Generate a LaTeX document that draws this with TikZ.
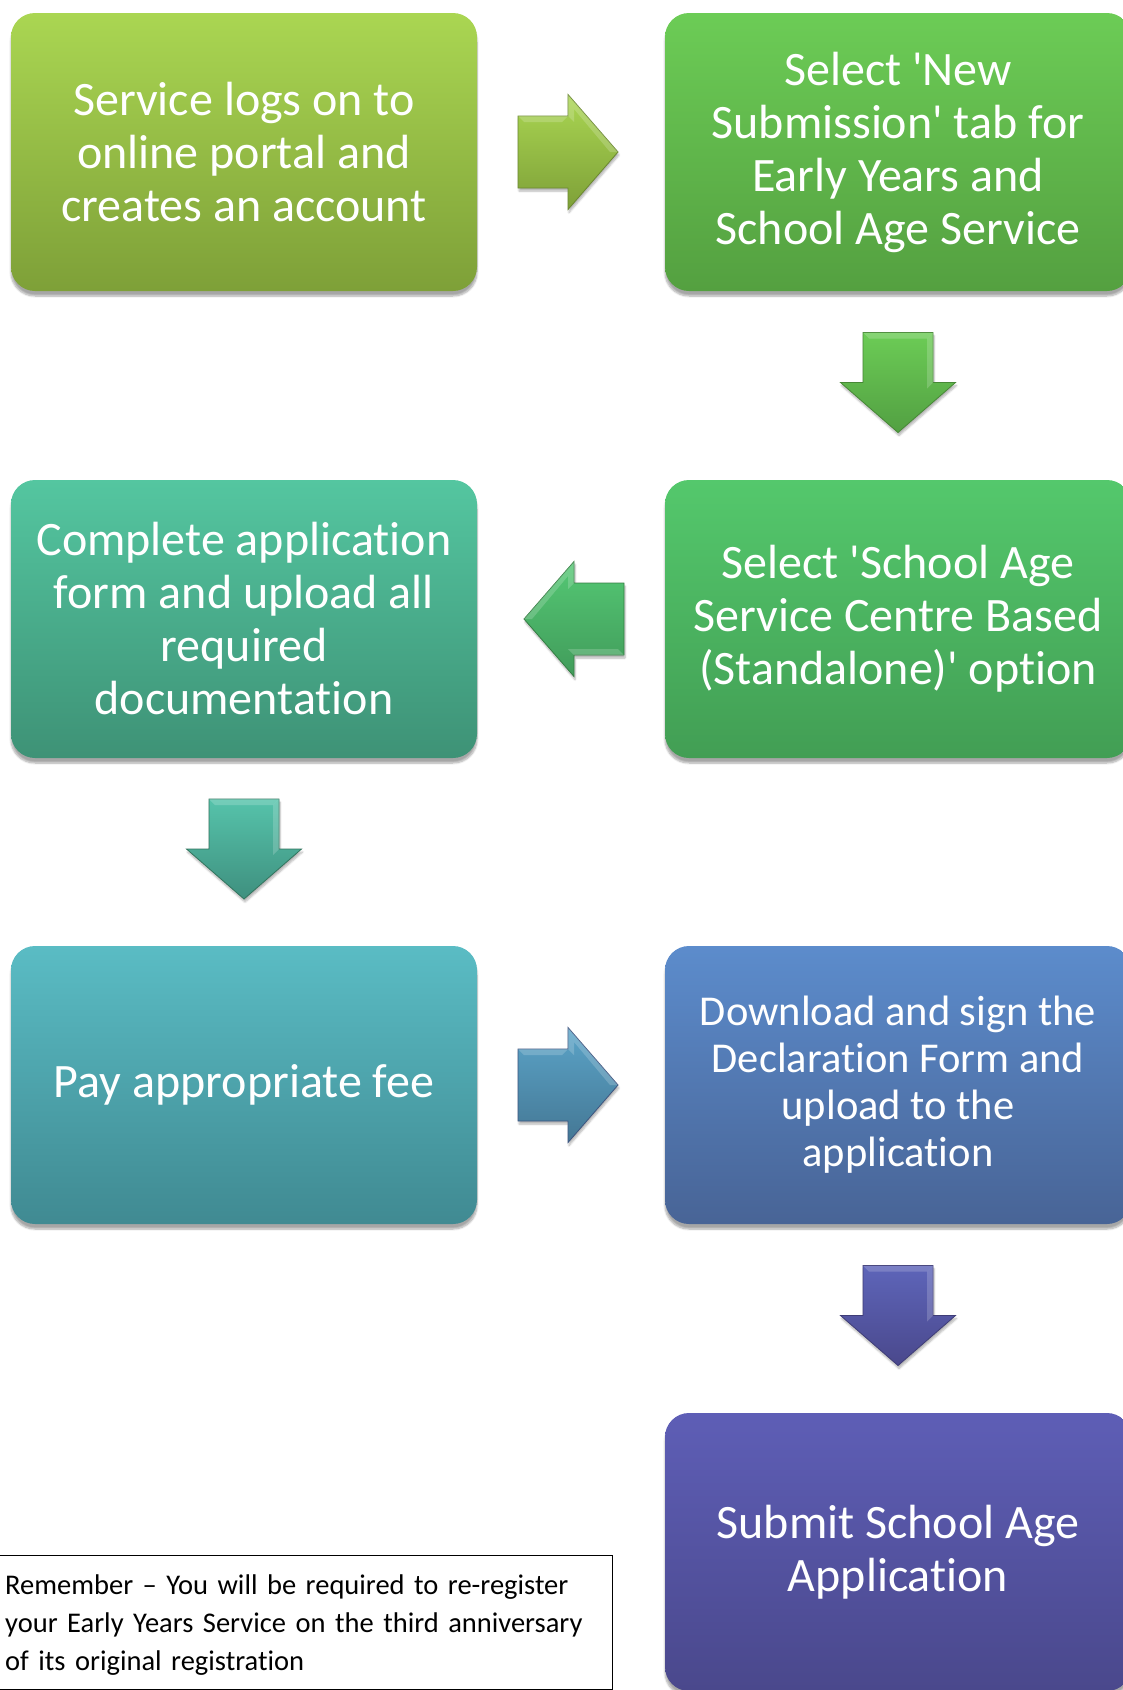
\documentclass[tikz,border=0pt]{standalone}
\usepackage{fontspec}
\setmainfont{Carlito}[Ligatures={NoCommon,TeX}]
\usetikzlibrary{calc,shadows,shadows.blur}
\definecolor{aT}{RGB}{170,214,82}\definecolor{aB}{RGB}{126,160,56}
\definecolor{bT}{RGB}{108,204,86}\definecolor{bB}{RGB}{84,160,64}
\definecolor{cT}{RGB}{84,200,108}\definecolor{cB}{RGB}{66,158,84}
\definecolor{dT}{RGB}{84,198,160}\definecolor{dB}{RGB}{62,146,118}
\definecolor{eT}{RGB}{90,188,196}\definecolor{eB}{RGB}{64,138,146}
\definecolor{fT}{RGB}{92,140,204}\definecolor{fB}{RGB}{72,100,150}
\definecolor{gT}{RGB}{94,94,182}\definecolor{gB}{RGB}{74,72,140}
\tikzset{
  stepbox/.style={rounded corners=24pt, minimum width=466pt, minimum height=278pt,
    inner sep=0pt, align=center, text=white,
    font=\fontsize{48}{53}\selectfont,
    blur shadow={shadow xshift=0pt, shadow yshift=-5pt, shadow blur steps=8, shadow opacity=35}},
  blockarrow/.style={line width=0.8pt,
    blur shadow={shadow xshift=1pt, shadow yshift=-3pt, shadow blur steps=6, shadow opacity=30}},
  bevel/.style={fill=white, fill opacity=0.18},
  notebox/.style={draw=black, line width=1.3pt, minimum width=613pt, minimum height=134pt,
    inner sep=0pt, anchor=north west},
  notetext/.style={anchor=base west, align=left, text width=610pt, inner sep=0pt,
    font=\fontsize{28.5}{38}\selectfont}
}
\begin{document}
\begin{tikzpicture}[x=1pt,y=-1pt]
\useasboundingbox (0,0) rectangle (1123,1690);
\clip (0,0) rectangle (1123,1690);

% boxes
\node[stepbox, top color=aT, bottom color=aB] (b1) at (244,152)
  {Service logs on to\\online portal and\\creates an account};
\node[stepbox, top color=bT, bottom color=bB] (b2) at (898,152)
  {Select \textquotesingle New\\Submission\textquotesingle{} tab for\\Early Years and\\School Age Service};
\node[stepbox, top color=cT, bottom color=cB] (b3) at (898,619)
  {Select \textquotesingle School Age\\Service Centre Based\\(Standalone)\textquotesingle{} option};
\node[stepbox, top color=dT, bottom color=dB] (b4) at (244,619)
  {Complete application\\form and upload all\\required\\documentation};
\node[stepbox, top color=eT, bottom color=eB] (b5) at (244,1085)
  {Pay appropriate fee};
\node[stepbox, top color=fT, bottom color=fB, font=\fontsize{42.5}{47}\selectfont] (b6) at (898,1085)
  {Download and sign the\\Declaration Form and\\upload to the\\application};
\node[stepbox, top color=gT, bottom color=gB] (b7) at (898,1552)
  {Submit School Age\\Application};

% arrow centres
\coordinate (m1) at ($($(b1.east)!0.5!(b2.west)$)+(-3,0)$);
\coordinate (m2) at ($($(b2.south)!0.5!(b3.north)$)+(0,-3)$);
\coordinate (m3) at ($($(b3.west)!0.5!(b4.east)$)+(3,0)$);
\coordinate (m4) at ($($(b4.south)!0.5!(b5.north)$)+(0,-3)$);
\coordinate (m5) at ($($(b5.east)!0.5!(b6.west)$)+(-3,0)$);
\coordinate (m6) at ($($(b6.south)!0.5!(b7.north)$)+(0,-3)$);

% right arrow b1 -> b2
\begin{scope}[shift={(m1)}]
\shade[blockarrow, top color=aT, bottom color=aB, draw=aB!85!black]
  (-50,-36) -- (0,-36) -- (0,-57.5) -- (50,0) -- (0,57.5) -- (0,36) -- (-50,36) -- cycle;
\path[bevel] (-50,-36) -- (0,-36) -- (-6,-30) -- (-44,-30) -- cycle;
\path[bevel] (0,-57.5) -- (50,0) -- (42,0) -- (6,-43) -- (6,-30) -- (0,-36) -- cycle;
\end{scope}
% down arrow b2 -> b3
\begin{scope}[shift={(m2)}]
\shade[blockarrow, top color=bT, bottom color=bB!90!cB, draw=bB!85!black]
  (-35,-50) -- (35,-50) -- (35,0) -- (57.5,0) -- (0,50) -- (-57.5,0) -- (-35,0) -- cycle;
\path[bevel] (35,-50) -- (35,0) -- (29,6) -- (29,-44) -- cycle;
\path[bevel] (-35,-50) -- (35,-50) -- (29,-44) -- (-29,-44) -- cycle;
\end{scope}
% left arrow b3 -> b4
\begin{scope}[shift={(m3)}]
\shade[blockarrow, top color=cT!85!dT, bottom color=cB!80!dB, draw=cB!80!black]
  (50,-36) -- (0,-36) -- (0,-57.5) -- (-50,0) -- (0,57.5) -- (0,36) -- (50,36) -- cycle;
\path[bevel] (50,36) -- (0,36) -- (-6,30) -- (44,30) -- cycle;
\path[bevel] (0,-57.5) -- (-50,0) -- (-42,0) -- (-6,-43) -- (-6,-30) -- (0,-36) -- cycle;
\end{scope}
% down arrow b4 -> b5
\begin{scope}[shift={(m4)}]
\shade[blockarrow, top color=dT!70!eT, bottom color=dB!70!eB, draw=dB!80!black]
  (-35,-50) -- (35,-50) -- (35,0) -- (57.5,0) -- (0,50) -- (-57.5,0) -- (-35,0) -- cycle;
\path[bevel] (35,-50) -- (35,0) -- (29,6) -- (29,-44) -- cycle;
\path[bevel] (-35,-50) -- (35,-50) -- (29,-44) -- (-29,-44) -- cycle;
\end{scope}
% right arrow b5 -> b6
\begin{scope}[shift={(m5)}]
\shade[blockarrow, top color=eT!50!fT, bottom color=eB!50!fB, draw=fB!85!black]
  (-50,-36) -- (0,-36) -- (0,-57.5) -- (50,0) -- (0,57.5) -- (0,36) -- (-50,36) -- cycle;
\path[bevel] (-50,-36) -- (0,-36) -- (-6,-30) -- (-44,-30) -- cycle;
\path[bevel] (0,-57.5) -- (50,0) -- (42,0) -- (6,-43) -- (6,-30) -- (0,-36) -- cycle;
\end{scope}
% down arrow b6 -> b7
\begin{scope}[shift={(m6)}]
\shade[blockarrow, top color=gT!85!fT, bottom color=gB, draw=gB!85!black]
  (-35,-50) -- (35,-50) -- (35,0) -- (57.5,0) -- (0,50) -- (-57.5,0) -- (-35,0) -- cycle;
\path[bevel] (35,-50) -- (35,0) -- (29,6) -- (29,-44) -- cycle;
\path[bevel] (-35,-50) -- (35,-50) -- (29,-44) -- (-29,-44) -- cycle;
\end{scope}

% note
\node[notebox] (note) at (-1,1555) {};
\node[notetext] (notetxt) at ($(note.north west)+(6,39)$)
  {Remember – You will be required to re-register\\your Early Years Service on the third anniversary\\of its original registration};
\end{tikzpicture}
\end{document}
